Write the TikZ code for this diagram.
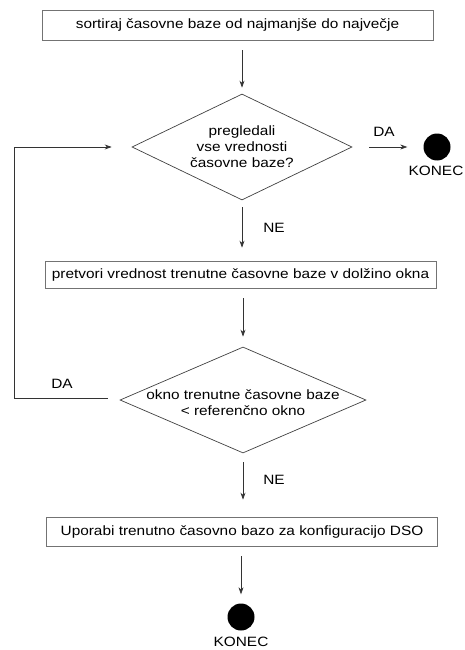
\documentclass[tikz,border=0pt]{standalone}
\usepackage{fontspec}
\setmainfont[FakeStretch=1.14]{Liberation Sans}
\usepackage{tikz}
\usetikzlibrary{shapes.geometric,arrows.meta}

\tikzset{
    korak/.style={draw=black!55, line width=0.7pt, minimum width=391pt, minimum height=29pt, inner sep=0pt},
    odlocitev/.style={diamond, draw=black!75, line width=0.7pt, minimum height=106pt, aspect=2.1, inner sep=0pt},
    puscica/.style={draw=black!80, line width=0.7pt, -{Stealth[length=7pt,width=5pt]}},
    konec/.style={circle, fill=black, minimum size=27pt, inner sep=0pt}
}

\begin{document}
\begin{tikzpicture}[x=1pt,y=-1pt,font=\fontsize{13.5}{16}\selectfont]
            \useasboundingbox (0,0) rectangle (465,650);

            \node[korak, minimum height=30pt] (sort) at (237.5,25) {sortiraj časovne baze od najmanjše do največje};
            \node[odlocitev, minimum width=220pt, align=center] (vse) at (242,147) {pregledali\\vse vrednosti\\časovne baze?};
            \node[konec] (konec1) at (437,147) {};
            \node (konec1txt) at (436,171) {KONEC};
            \node[korak, minimum height=27pt] (pretvori) at (240.5,274.5) {pretvori vrednost trenutne časovne baze v dolžino okna};
            \node[odlocitev, minimum width=246pt] (okno) at (243,400) {};
            \node[align=center] (oknotxt) at (243,403) {okno trenutne časovne baze\\< referenčno okno};
            \node[korak] (uporabi) at (242,531.5) {Uporabi trenutno časovno bazo za konfiguracijo DSO};
            \node[konec] (konec2) at (241,617) {};
            \node (konec2txt) at (241,642) {KONEC};
            \coordinate (zanka) at (14,0);

            \draw[puscica, shorten <=10pt, shorten >=6pt] (vse.north |- sort.south) -- (vse.north);
            \draw[puscica, shorten <=17pt, shorten >=16pt] (vse.east) -- (konec1.west);
            \node (da1) at (384,132) {DA};
            \draw[puscica, shorten <=7pt, shorten >=13pt] (vse.south) -- (vse.south |- pretvori.north);
            \node (ne1) at (274,228) {NE};
            \draw[puscica, shorten <=10pt, shorten >=10pt] (okno.north |- pretvori.south) -- (okno.north);
            \draw[puscica, shorten <=9pt, shorten >=17pt] (okno.south) -- (okno.south |- uporabi.north);
            \node (ne2) at (274,480) {NE};
            \draw[puscica, shorten <=10pt, shorten >=9pt] (konec2.north |- uporabi.south) -- (konec2.north);
            \draw[puscica, shorten <=12pt, shorten >=20pt] ([yshift=2pt]okno.west) -- ([yshift=2pt]okno.west -| zanka) |- (vse.west);
            \node (da2) at (62,384) {DA};
        \end{tikzpicture}
\end{document}
